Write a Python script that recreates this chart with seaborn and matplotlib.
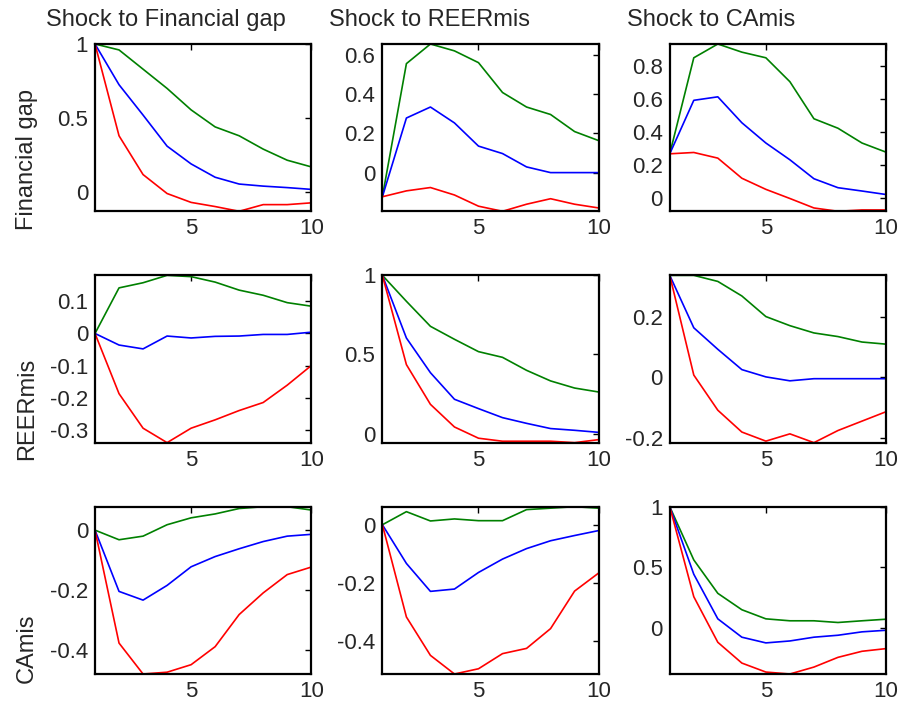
import numpy as np
import pandas as pd
import seaborn as sns
import matplotlib
matplotlib.use("Agg")
import matplotlib.pyplot as plt
from matplotlib.ticker import FuncFormatter

# horizons
horizon = [1, 2, 3, 4, 5, 6, 7, 8, 9, 10]

# response of Financial gap
fin_fin_hi = [1.0, 0.96, 0.83, 0.70, 0.555, 0.44, 0.38, 0.29, 0.215, 0.17]
fin_fin_md = [1.0, 0.725, 0.52, 0.31, 0.19, 0.10, 0.054, 0.04, 0.03, 0.018]
fin_fin_lo = [1.0, 0.38, 0.118, -0.01, -0.07, -0.098, -0.13, -0.085, -0.085, -0.073]

fin_reer_hi = [-0.123, 0.555, 0.655, 0.62, 0.56, 0.408, 0.334, 0.296, 0.209, 0.163]
fin_reer_md = [-0.123, 0.278, 0.334, 0.253, 0.135, 0.097, 0.029, 0.0, 0.0, 0.0]
fin_reer_lo = [-0.123, -0.093, -0.076, -0.114, -0.171, -0.197, -0.161, -0.133, -0.161, -0.18]

fin_ca_hi = [0.269, 0.847, 0.93, 0.881, 0.847, 0.703, 0.48, 0.423, 0.334, 0.279]
fin_ca_md = [0.269, 0.591, 0.612, 0.456, 0.334, 0.233, 0.119, 0.065, 0.045, 0.024]
fin_ca_lo = [0.269, 0.277, 0.243, 0.122, 0.055, 0.0, -0.057, -0.077, -0.069, -0.069]

# response of REERmis
reer_fin_hi = [0.0, 0.142, 0.158, 0.181, 0.177, 0.160, 0.135, 0.119, 0.096, 0.085]
reer_fin_md = [0.0, -0.036, -0.048, -0.008, -0.014, -0.009, -0.008, -0.003, -0.003, 0.004]
reer_fin_lo = [0.0, -0.1875, -0.295, -0.34, -0.295, -0.269, -0.24, -0.215, -0.161, -0.10]

reer_reer_hi = [1.0, 0.836, 0.678, 0.596, 0.518, 0.482, 0.40, 0.333, 0.288, 0.263]
reer_reer_md = [1.0, 0.604, 0.385, 0.217, 0.158, 0.101, 0.065, 0.032, 0.021, 0.008]
reer_reer_lo = [1.0, 0.436, 0.185, 0.042, -0.029, -0.048, -0.048, -0.048, -0.057, -0.038]

reer_ca_hi = [0.336, 0.336, 0.316, 0.268, 0.20, 0.17, 0.146, 0.134, 0.116, 0.109]
reer_ca_md = [0.336, 0.163, 0.092, 0.025, 0.001, -0.012, -0.005, -0.005, -0.005, -0.005]
reer_ca_lo = [0.336, 0.007, -0.109, -0.181, -0.211, -0.187, -0.216, -0.176, -0.145, -0.114]

# response of CAmis
ca_fin_hi = [0.0, -0.032, -0.02, 0.018, 0.041, 0.054, 0.072, 0.078, 0.078, 0.067]
ca_fin_md = [0.0, -0.204, -0.233, -0.184, -0.122, -0.088, -0.062, -0.038, -0.02, -0.014]
ca_fin_lo = [0.0, -0.376, -0.479, -0.473, -0.448, -0.388, -0.281, -0.209, -0.148, -0.123]

ca_reer_hi = [0.0, 0.045, 0.013, 0.02, 0.014, 0.014, 0.052, 0.057, 0.062, 0.057]
ca_reer_md = [0.0, -0.133, -0.229, -0.221, -0.164, -0.118, -0.082, -0.055, -0.037, -0.02]
ca_reer_lo = [0.0, -0.317, -0.449, -0.513, -0.495, -0.443, -0.425, -0.357, -0.228, -0.166]

ca_ca_hi = [1.0, 0.562, 0.287, 0.152, 0.077, 0.061, 0.061, 0.047, 0.061, 0.074]
ca_ca_md = [1.0, 0.444, 0.077, -0.074, -0.121, -0.105, -0.074, -0.058, -0.03, -0.017]
ca_ca_lo = [1.0, 0.259, -0.116, -0.287, -0.361, -0.377, -0.320, -0.240, -0.19, -0.168]

shock_titles = ["Shock to Financial gap", "Shock to REERmis", "Shock to CAmis"]
row_labels = ["Financial gap", "REERmis", "CAmis"]

panels = [
    [(fin_fin_hi, fin_fin_md, fin_fin_lo), (fin_reer_hi, fin_reer_md, fin_reer_lo), (fin_ca_hi, fin_ca_md, fin_ca_lo)],
    [(reer_fin_hi, reer_fin_md, reer_fin_lo), (reer_reer_hi, reer_reer_md, reer_reer_lo), (reer_ca_hi, reer_ca_md, reer_ca_lo)],
    [(ca_fin_hi, ca_fin_md, ca_fin_lo), (ca_reer_hi, ca_reer_md, ca_reer_lo), (ca_ca_hi, ca_ca_md, ca_ca_lo)],
]

yticks = [
    [[0, 0.5, 1], [0, 0.2, 0.4, 0.6], [0, 0.2, 0.4, 0.6, 0.8]],
    [[-0.3, -0.2, -0.1, 0, 0.1], [0, 0.5, 1], [-0.2, 0, 0.2]],
    [[-0.4, -0.2, 0], [-0.4, -0.2, 0], [0, 0.5, 1]],
]

sns.set_theme(style="white")
plt.rcParams["font.family"] = ["Liberation Sans", "DejaVu Sans"]
plt.rcParams["axes.unicode_minus"] = False

W, H = 902, 708
fig, axes = plt.subplots(3, 3, figsize=(W / 100, H / 100), dpi=100)
fig.subplots_adjust(left=95 / W, right=886 / W, top=1 - 44 / H, bottom=1 - 674 / H,
                    wspace=0.329, hspace=0.383)

colors = ["#008000", "#0000ff", "#ff0000"]
fmt = FuncFormatter(lambda v, p: "%g" % round(v, 3))

for i in range(3):
    for j in range(3):
        ax = axes[i, j]
        hi, md, lo = panels[i][j]
        df = pd.DataFrame({"h": horizon * 3, "v": hi + md + lo,
                           "band": ["hi"] * 10 + ["md"] * 10 + ["lo"] * 10})
        sns.lineplot(data=df, x="h", y="v", hue="band", palette=colors,
                     linewidth=1.2, legend=False, ax=ax)
        allv = hi + md + lo
        ax.set_xlim(1, 10)
        ax.set_ylim(min(allv), max(allv))
        ax.set_xticks([5, 10])
        ax.set_yticks(yticks[i][j])
        ax.yaxis.set_major_formatter(fmt)
        ax.set_xlabel("")
        ax.set_ylabel("")
        ax.tick_params(direction="in", length=4, width=1, labelsize=16,
                       top=True, right=True, color="black", pad=5)
        for s in ax.spines.values():
            s.set_color("black")
            s.set_linewidth(1.6)

# column titles
for j, (t, x) in enumerate(zip(shock_titles, [46, 329, 627])):
    fig.text(x / W, 1 - 26 / H, t, fontsize=17, ha="left", va="baseline")

# row labels
for lab, yc in zip(row_labels, [160, 409, 648]):
    fig.text(33 / W, 1 - yc / H, lab, fontsize=17, rotation=90,
             rotation_mode="anchor", ha="center", va="baseline")

fig.savefig("out.png", dpi=100)
